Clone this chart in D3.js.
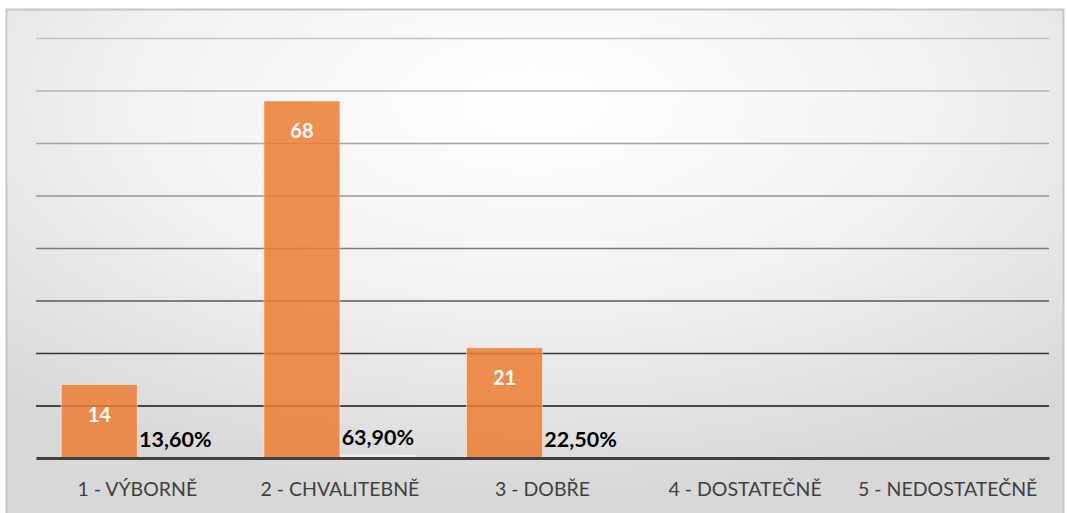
<!DOCTYPE html>
<html>
<head>
<meta charset="utf-8">
<script src="https://cdn.jsdelivr.net/npm/d3@7"></script>
<style>
  body { margin: 0; background: #ffffff; }
  svg { display: block; }
</style>
</head>
<body>
<div id="chart"></div>
<script>
// data
const categories = ["1 - VÝBORNĚ", "2 - CHVALITEBNĚ", "3 - DOBŘE", "4 - DOSTATEČNĚ", "5 - NEDOSTATEČNĚ"];
const counts = [14, 68, 21, null, null];
const shares = [0.136, 0.639, 0.225, null, null];
const yTicks = [10, 20, 30, 40, 50, 60, 70, 80];

const width = 1067;
const height = 513;
const marginTop = 38;
const marginRight = 18;
const marginBottom = 55;
const marginLeft = 36;
const font = "Lato, 'Open Sans', sans-serif";

const svg = d3
  .select("#chart")
  .append("svg")
  .attr("width", width)
  .attr("height", height)
  .attr("viewBox", [0, 0, width, height]);

const defs = svg.append("defs");

// chart area background: light in the middle top, grey at the edges
const bg = defs
  .append("radialGradient")
  .attr("id", "bgGrad")
  .attr("cx", "50%")
  .attr("cy", "18%")
  .attr("r", "75%")
  .attr("fx", "50%")
  .attr("fy", "18%");
bg.append("stop").attr("offset", "0%").attr("stop-color", "#ffffff");
bg.append("stop").attr("offset", "50%").attr("stop-color", "#f2f2f2");
bg.append("stop").attr("offset", "100%").attr("stop-color", "#d8d8d8");

const x = d3
  .scaleBand()
  .domain(categories)
  .range([marginLeft, width - marginRight])
  .paddingInner(0)
  .paddingOuter(0);

const x2 = d3
  .scaleBand()
  .domain(["count", "share"])
  .range([0, x.bandwidth()])
  .paddingOuter(0.333)
  .paddingInner(0);

const y = d3
  .scaleLinear()
  .domain([0, 80])
  .range([height - marginBottom, marginTop]);

// gridline colour fades from light grey at the top to black near the base
const gridColor = d3
  .scaleLinear()
  .domain([80, 45, 10])
  .range(["#c4c4c4", "#8c8c8c", "#141414"]);

svg
  .append("rect")
  .attr("x", 6.5)
  .attr("y", 9.5)
  .attr("width", 1057)
  .attr("height", 520)
  .attr("fill", "url(#bgGrad)")
  .attr("stroke", "#c6c6c6")
  .attr("stroke-width", 2);

svg
  .append("g")
  .attr("transform", `translate(${marginLeft},0)`)
  .call(
    d3
      .axisLeft(y)
      .tickValues(yTicks)
      .tickSize(-(width - marginLeft - marginRight))
      .tickFormat("")
  )
  .call((g) => g.select(".domain").remove())
  .call((g) =>
    g
      .selectAll(".tick line")
      .attr("stroke", (d) => gridColor(d))
      .attr("stroke-width", 1.6)
  );

const groups = svg
  .append("g")
  .selectAll("g")
  .data(categories.map((c, i) => ({ cat: c, count: counts[i], share: shares[i] })))
  .join("g")
  .attr("transform", (d) => `translate(${x(d.cat)},0)`);

// second series (share) is tiny next to counts, only a sliver on the base
groups
  .filter((d) => d.share != null)
  .append("rect")
  .attr("x", x2("share"))
  .attr("width", x2.bandwidth())
  .attr("y", (d) => y(d.share))
  .attr("height", (d) => y(0) - y(d.share))
  .attr("fill", "#f4f4f4")
  .attr("opacity", 0.7);

groups
  .filter((d) => d.count != null)
  .append("rect")
  .attr("x", x2("count"))
  .attr("width", x2.bandwidth())
  .attr("y", (d) => y(d.count))
  .attr("height", (d) => y(0) - y(d.count))
  .attr("fill", "#ED7D31")
  .attr("fill-opacity", 0.85)
  .attr("stroke", "#ffffff")
  .attr("stroke-opacity", 0.45)
  .attr("stroke-width", 1);

groups
  .filter((d) => d.count != null)
  .append("text")
  .attr("x", x2("count") + x2.bandwidth() / 2)
  .attr("y", (d) => y(d.count) + 37)
  .attr("text-anchor", "middle")
  .attr("font-family", font)
  .attr("font-weight", "bold")
  .attr("font-size", 20)
  .attr("fill", "#ffffff")
  .text((d) => d.count);

const pct = (v) => d3.format(".2f")(v * 100).replace(".", ",") + "%";

groups
  .filter((d) => d.share != null)
  .append("text")
  .attr("x", x2("share") + x2.bandwidth() / 2)
  .attr("y", (d) => y(d.share) - 10)
  .attr("text-anchor", "middle")
  .attr("font-family", font)
  .attr("font-weight", "bold")
  .attr("font-size", 21.5)
  .attr("fill", "#000000")
  .text((d) => pct(d.share));

// category axis
svg
  .append("g")
  .attr("transform", `translate(0,${y(0)})`)
  .call(d3.axisBottom(x).tickSize(0).tickPadding(24))
  .call((g) =>
    g
      .select(".domain")
      .attr("stroke", "#404040")
      .attr("stroke-width", 3)
  )
  .call((g) =>
    g
      .selectAll(".tick text")
      .attr("font-family", font)
      .attr("font-size", 19.5)
      .attr("fill", "#404040")
  );
</script>
</body>
</html>
